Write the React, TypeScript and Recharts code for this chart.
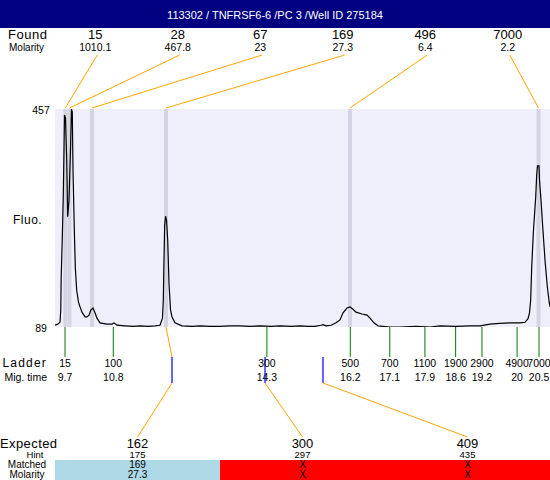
import { ComposedChart, Line, XAxis, YAxis, CartesianGrid, ReferenceLine } from 'recharts';

const FONT = '"Liberation Sans", Arial, sans-serif';
const ORANGE = '#FFA500';

const title = '113302 / TNFRSF6-6 /PC 3 /Well ID 275184';

// electropherogram: migration time vs fluorescence
const traceTime = [
  9.472, 9.54, 9.586, 9.604, 9.613, 9.638, 9.661, 9.677, 9.688, 9.711, 9.739, 9.761, 9.791, 9.825,
  9.848, 9.866, 9.882, 9.912, 9.935, 9.966, 10.007, 10.042, 10.087, 10.156, 10.201, 10.247, 10.292,
  10.338, 10.383, 10.429, 10.497, 10.657, 10.771, 10.816, 10.885, 11.067, 11.25, 11.41, 11.6, 11.75,
  11.864, 11.921, 11.94, 11.955, 11.971, 11.99, 12.012, 12.04, 12.069, 12.104, 12.138, 12.206,
  12.366, 12.6, 12.78, 13.0, 13.23, 13.45, 13.69, 13.9, 14.14, 14.4, 14.6, 14.85, 15.054, 15.25,
  15.396, 15.533, 15.578, 15.646, 15.76, 15.874, 15.965, 16.034, 16.125, 16.193, 16.262, 16.33,
  16.467, 16.581, 16.649, 16.74, 16.831, 17.1, 17.333, 17.7, 18.016, 18.244, 18.6, 18.928, 19.155,
  19.383, 19.6, 19.839, 20.067, 20.181, 20.249, 20.283, 20.31, 20.333, 20.37, 20.424, 20.447,
  20.465, 20.499, 20.511, 20.545, 20.584, 20.636, 20.689, 20.734, 20.75,
];
const traceFluo = [
  92, 94, 97, 118, 173, 239, 312, 388, 447, 442, 371, 275, 303, 388,
  457, 452, 354, 253, 189, 151, 131, 123, 114, 106, 106, 109, 118,
  121, 113, 104, 96, 94, 94, 96, 92, 91, 90, 91, 90, 91,
  92, 104, 135, 202, 261, 276, 270, 236, 163, 118, 106, 96,
  91, 90, 91, 90, 90, 91, 91, 90, 91, 90, 91, 90, 91, 90,
  90, 92, 93, 91, 92, 96, 101, 113, 121, 123, 119, 114,
  111, 109, 104, 96, 91, 89, 89, 90, 89, 91, 90, 91, 91,
  94, 95, 96, 96, 97, 103, 113, 135, 190, 248, 308, 346,
  361, 361, 337, 303, 258, 202, 157, 130, 123,
];

const foundSize = ['15', '28', '67', '169', '496', '7000'];
const foundMolarity = ['1010.1', '467.8', '23', '27.3', '6.4', '2.2'];
const foundTime = [9.707, 9.802, 10.315, 12.001, 16.193, 20.488];

const ladderSize = ['15', '100', '300', '500', '700', '1100', '1900', '2900', '4900', '7000'];
const ladderTime = [9.7, 10.8, 14.3, 16.2, 17.1, 17.9, 18.6, 19.2, 20, 20.5];

const expectedSize = ['162', '300', '409'];
const expectedTime = [12.138, 14.257, 15.578];
const hintSize = ['175', '297', '435'];
const matchedSize = ['169', 'X', 'X'];
const matchedMolarity = ['27.3', 'X', 'X'];
const matchedTime: (number | null)[] = [12.001, null, null];

const yTicks = [89, 457];

const data = traceTime.map((t, i) => ({ t, fluo: traceFluo[i] }));

// label columns above and below the plot (plot runs x 55..550)
const foundX = (i: number) => 55 + 82.5 * (i + 0.5) - 1;
const expectedX = (i: number) => 55 + 165 * (i + 0.5);

const foundShape = (i: number) => (p: any) => {
  const top = Math.min(p.y1, p.y2);
  const cx = foundX(i);
  return (
    <g>
      <line x1={p.x1} y1={top - 1} x2={cx + 2} y2={55} stroke={ORANGE} strokeWidth={1} />
      <text x={cx} y={34} textAnchor="middle" dominantBaseline="central" fontSize={13}>{foundSize[i]}</text>
      <text x={cx} y={47} textAnchor="middle" dominantBaseline="central" fontSize={10.5}>{foundMolarity[i]}</text>
    </g>
  );
};

const expectedShape = (i: number) => (p: any) => {
  const base = Math.max(p.y1, p.y2);
  return (
    <g>
      {matchedTime[i] != null && (
        <line x1={p.x1} y1={base} x2={p.x2} y2={base + 30} stroke={ORANGE} strokeWidth={1} />
      )}
      <line x1={p.x2} y1={base + 30} x2={p.x2} y2={base + 56} stroke="#0000FF" strokeWidth={1.2} />
      <line x1={p.x2} y1={base + 56} x2={expectedX(i)} y2={437} stroke={ORANGE} strokeWidth={1} />
    </g>
  );
};

const LadderTick = (p: any) => {
  const i = ladderTime.indexOf(p.payload.value);
  return (
    <g>
      <text x={p.x} y={p.y + 6} textAnchor="middle" dominantBaseline="central" fontSize={10.5}>{ladderSize[i]}</text>
      <text x={p.x} y={p.y + 20} textAnchor="middle" dominantBaseline="central" fontSize={10.5}>{ladderTime[i]}</text>
    </g>
  );
};

const FluoTick = (p: any) => (
  <text x={p.x} y={p.y + 1} textAnchor="middle" dominantBaseline="central" fontSize={10.5}>{p.payload.value}</text>
);

export default function App() {
  return (
    <div style={{ position: 'absolute', left: 0, top: 0, width: 550, height: 480, background: '#fff', fontFamily: FONT }}>
      <ComposedChart width={550} height={480} data={data} margin={{ top: 109, right: 0, bottom: 113, left: 0 }}>
        <CartesianGrid fill="#EFEFFB" horizontal={false} vertical={false} />
        <XAxis
          dataKey="t"
          type="number"
          domain={[9.472, 20.75]}
          ticks={ladderTime}
          interval={0}
          height={40}
          axisLine={false}
          tickSize={30}
          tickMargin={0}
          tickLine={{ stroke: '#007800' }}
          tick={<LadderTick />}
          allowDataOverflow
        />
        <YAxis
          type="number"
          domain={[89, 457]}
          ticks={yTicks}
          width={55}
          axisLine={false}
          tickLine={false}
          tickSize={0}
          tickMargin={14}
          tick={<FluoTick />}
          allowDataOverflow
        />
        {foundTime.map((t, i) => (
          <ReferenceLine key={'b' + i} x={t} stroke="#D4D4E2" strokeWidth={4} />
        ))}
        <Line dataKey="fluo" type="linear" stroke="#000" strokeWidth={1.2} dot={false} isAnimationActive={false} />
        {foundTime.map((t, i) => (
          <ReferenceLine key={'f' + i} x={t} ifOverflow="visible" shape={foundShape(i)} />
        ))}
        {expectedTime.map((t, i) => (
          <ReferenceLine
            key={'e' + i}
            segment={[{ x: matchedTime[i] ?? t, y: 89 }, { x: t, y: 89 }]}
            ifOverflow="visible"
            shape={expectedShape(i)}
          />
        ))}
      </ComposedChart>
      <svg width={550} height={480} style={{ position: 'absolute', left: 0, top: 0, pointerEvents: 'none' }}>
        <rect x={0} y={0} width={550} height={28} fill="#000080" />
        <text x={275} y={15} fill="#fff" textAnchor="middle" dominantBaseline="central" fontSize={11}>{title}</text>
        <text x={8} y={34} dominantBaseline="central" fontSize={13} letterSpacing={0.5}>Found</text>
        <text x={9} y={47} dominantBaseline="central" fontSize={10}>Molarity</text>
        <text x={13} y={220} dominantBaseline="central" fontSize={12} letterSpacing={0.5}>Fluo.</text>
        <text x={47} y={363} textAnchor="end" dominantBaseline="central" fontSize={12} letterSpacing={1.2}>Ladder</text>
        <text x={47} y={377} textAnchor="end" dominantBaseline="central" fontSize={10.5}>Mig. time</text>
        <text x={0} y={443} dominantBaseline="central" fontSize={13} letterSpacing={0.4}>Expected</text>
        <text x={35} y={454.5} textAnchor="middle" dominantBaseline="central" fontSize={9.5}>Hint</text>
        <text x={27} y={464.5} textAnchor="middle" dominantBaseline="central" fontSize={10}>Matched</text>
        <text x={27} y={474.5} textAnchor="middle" dominantBaseline="central" fontSize={10}>Molarity</text>
        {expectedSize.map((s, i) => (
          <g key={i}>
            <rect x={expectedX(i) - 82.5} y={460} width={165} height={20} fill={matchedTime[i] != null ? '#ADD8E6' : '#FF0000'} />
            <text x={expectedX(i)} y={443} textAnchor="middle" dominantBaseline="central" fontSize={13}>{s}</text>
            <text x={expectedX(i)} y={454.5} textAnchor="middle" dominantBaseline="central" fontSize={9.5}>{hintSize[i]}</text>
            <text x={expectedX(i)} y={464.5} textAnchor="middle" dominantBaseline="central" fontSize={10}>{matchedSize[i]}</text>
            <text x={expectedX(i)} y={474.5} textAnchor="middle" dominantBaseline="central" fontSize={10}>{matchedMolarity[i]}</text>
          </g>
        ))}
      </svg>
    </div>
  );
}
